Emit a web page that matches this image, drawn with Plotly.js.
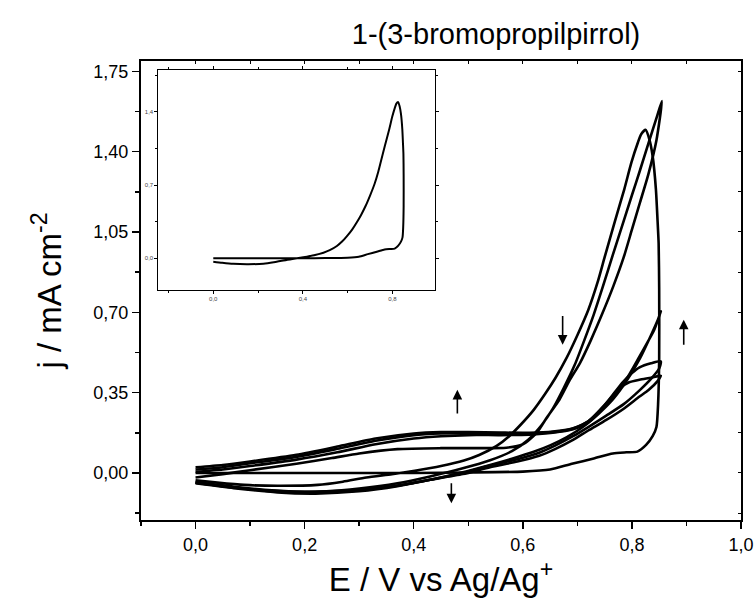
<!DOCTYPE html>
<html>
<head>
<meta charset="utf-8">
<script src="https://cdn.plot.ly/plotly-3.0.1.min.js"></script>
<style>html,body{margin:0;padding:0;background:#fff;}#chart{width:755px;height:609px;}</style>
</head>
<body>
<div id="chart"></div>
<script>
// Cycle 1 (also shown in inset)
const c1E = [0, 0.05, 0.1, 0.2, 0.3, 0.4, 0.5, 0.6, 0.65, 0.69, 0.73, 0.765, 0.79, 0.81, 0.826, 0.838, 0.845, 0.848, 0.85, 0.85, 0.849, 0.847, 0.844, 0.838, 0.832, 0.825,
             0.817, 0.811, 0.799, 0.786, 0.768, 0.75, 0.737, 0.72, 0.70, 0.68, 0.66, 0.641, 0.62, 0.596, 0.575, 0.552, 0.52, 0.492, 0.45, 0.402, 0.36, 0.313, 0.27, 0.224, 0.15, 0.089, 0.04, 0];
const c1J = [0.0, 0.0, 0.0, 0.0, 0.0, 0.0, 0.002, 0.006, 0.015, 0.04, 0.063, 0.085, 0.09, 0.093, 0.122, 0.16, 0.2, 0.3, 0.5, 0.8, 1.0, 1.1, 1.236, 1.381, 1.454, 1.495,
             1.476, 1.44, 1.352, 1.236, 1.09, 0.94, 0.83, 0.71, 0.6, 0.5, 0.415, 0.345, 0.275, 0.21, 0.16, 0.118, 0.078, 0.054, 0.03, 0.01, -0.005, -0.02, -0.038, -0.052, -0.056, -0.052, -0.042, -0.032];
// Cycle 2
const c2E = [0, 0.05, 0.1, 0.185, 0.25, 0.3, 0.37, 0.45, 0.52, 0.57, 0.6, 0.625, 0.645, 0.667, 0.685, 0.705, 0.725, 0.745, 0.766, 0.785, 0.8, 0.815, 0.83, 0.845, 0.855,
             0.845, 0.83, 0.815, 0.8, 0.78, 0.765, 0.747, 0.73, 0.713, 0.695, 0.675, 0.655, 0.635, 0.61, 0.58, 0.54, 0.49, 0.43, 0.37, 0.3, 0.24, 0.18, 0.12, 0.06, 0];
const c2J = [-0.02, -0.005, 0.012, 0.04, 0.065, 0.085, 0.104, 0.108, 0.108, 0.11, 0.125, 0.173, 0.245, 0.319, 0.4, 0.48, 0.58, 0.69, 0.814, 0.94, 1.06, 1.18, 1.3, 1.45, 1.621,
             1.546, 1.434, 1.32, 1.21, 1.061, 0.95, 0.814, 0.69, 0.58, 0.47, 0.37, 0.28, 0.21, 0.145, 0.095, 0.055, 0.02, -0.015, -0.045, -0.068, -0.08, -0.082, -0.075, -0.06, -0.042];
// Cycle 3
const c3E = [0, 0.05, 0.1, 0.185, 0.26, 0.33, 0.4, 0.45, 0.5, 0.56, 0.612, 0.655, 0.692, 0.72, 0.75, 0.775, 0.795, 0.814, 0.835, 0.853,
             0.847, 0.83, 0.814, 0.785, 0.753, 0.72, 0.692, 0.66, 0.63, 0.59, 0.54, 0.49, 0.43, 0.37, 0.3, 0.25, 0.2, 0.14, 0.07, 0];
const c3J = [0.005, 0.015, 0.03, 0.058, 0.09, 0.125, 0.15, 0.16, 0.165, 0.165, 0.167, 0.175, 0.19, 0.22, 0.29, 0.365, 0.395, 0.406, 0.415, 0.424,
             0.40, 0.36, 0.333, 0.28, 0.231, 0.185, 0.144, 0.105, 0.075, 0.05, 0.025, -0.005, -0.03, -0.055, -0.073, -0.08, -0.082, -0.076, -0.06, -0.04];
// Cycle 4
const c4E = [0, 0.05, 0.1, 0.185, 0.26, 0.33, 0.4, 0.45, 0.5, 0.56, 0.612, 0.655, 0.692, 0.72, 0.75, 0.783, 0.8, 0.814, 0.835, 0.853,
             0.85, 0.835, 0.814, 0.785, 0.753, 0.72, 0.692, 0.66, 0.63, 0.59, 0.54, 0.49, 0.43, 0.37, 0.3, 0.25, 0.2, 0.14, 0.07, 0];
const c4J = [0.015, 0.025, 0.042, 0.07, 0.105, 0.14, 0.165, 0.172, 0.174, 0.172, 0.172, 0.178, 0.193, 0.225, 0.295, 0.395, 0.435, 0.46, 0.478, 0.486,
             0.455, 0.41, 0.36, 0.3, 0.25, 0.2, 0.16, 0.12, 0.088, 0.06, 0.032, 0.0, -0.03, -0.056, -0.076, -0.084, -0.086, -0.08, -0.063, -0.042];
// Cycle 5
const c5E = [0, 0.05, 0.1, 0.185, 0.26, 0.33, 0.4, 0.45, 0.5, 0.56, 0.612, 0.655, 0.692, 0.72, 0.753, 0.789, 0.814, 0.83, 0.841, 0.853,
             0.848, 0.835, 0.815, 0.79, 0.765, 0.74, 0.71, 0.68, 0.65, 0.62, 0.58, 0.54, 0.49, 0.43, 0.37, 0.3, 0.22, 0.15, 0.07, 0];
const c5J = [0.025, 0.035, 0.05, 0.079, 0.115, 0.15, 0.172, 0.178, 0.178, 0.176, 0.175, 0.18, 0.195, 0.225, 0.304, 0.406, 0.508, 0.575, 0.624, 0.704,
             0.67, 0.6, 0.5, 0.4, 0.32, 0.26, 0.2, 0.155, 0.12, 0.092, 0.062, 0.035, 0.003, -0.03, -0.058, -0.08, -0.09, -0.085, -0.066, -0.045];

// Arrow annotations: head (E, j) and tail (E, j)
const arrowHeadE = [0.673, 0.895, 0.48, 0.469];
const arrowHeadJ = [0.559, 0.668, 0.362, -0.132];
const arrowTailE = [0.673, 0.895, 0.48, 0.469];
const arrowTailJ = [0.69, 0.552, 0.253, -0.038];

const chartTitle = '1-(3-bromopropilpirrol)';
const xTitle = 'E / V vs Ag/Ag<sup>+</sup>';
const yTitle = 'j / mA cm<sup>-2</sup>';

const FONT = 'Liberation Sans, Arial, sans-serif';
const xRange = [-0.1, 1.0];
const yRange = [-0.205, 1.795];
const cycles = [[c1E, c1J], [c2E, c2J], [c3E, c3J], [c4E, c4J], [c5E, c5J]];
const traces = cycles.map(c => ({
  x: c[0], y: c[1], type: 'scatter', mode: 'lines',
  line: {color: '#000', width: 2.6, shape: 'spline', smoothing: 0.6},
  xaxis: 'x', yaxis: 'y', hoverinfo: 'skip'
}));
traces.push({
  x: c1E, y: c1J, type: 'scatter', mode: 'lines',
  line: {color: '#000', width: 2, shape: 'spline', smoothing: 0.6},
  xaxis: 'x2', yaxis: 'y2', hoverinfo: 'skip'
});
// invisible trace to hold the mirrored (top/right) inner-tick axes
traces.push({x: [c1E[0]], y: [c1J[0]], type: 'scatter', mode: 'markers', marker: {opacity: 0},
             xaxis: 'x3', yaxis: 'y3', hoverinfo: 'skip'});

const annotations = arrowHeadE.map((e, i) => ({
  x: e, y: arrowHeadJ[i], ax: arrowTailE[i], ay: arrowTailJ[i],
  xref: 'x', yref: 'y', axref: 'x', ayref: 'y',
  text: '', showarrow: true, arrowhead: 2, arrowsize: 1.2, arrowwidth: 1.6, arrowcolor: '#000'
}));

const layout = {
  width: 755, height: 609,
  paper_bgcolor: '#fff', plot_bgcolor: '#fff',
  separators: ',.',
  showlegend: false,
  margin: {l: 141, r: 14, t: 61, b: 89},
  font: {family: FONT, color: '#000'},
  title: {text: chartTitle, font: {size: 29, family: FONT, color: '#000'},
          xref: 'container', x: 0.657, xanchor: 'center', yref: 'container', y: 0.945, yanchor: 'middle'},
  xaxis: {
    range: xRange, tick0: 0, dtick: 0.2, tickformat: '.1f',
    ticks: 'outside', ticklen: 7, tickwidth: 1.5, tickcolor: '#000',
    showline: true, linewidth: 2, linecolor: '#000', mirror: true,
    showgrid: false, zeroline: false,
    minor: {dtick: 0.1, tick0: 0, ticks: 'outside', ticklen: 4, tickwidth: 1.5, tickcolor: '#000', showgrid: false},
    tickfont: {size: 18, family: FONT, color: '#000'},
    title: {text: xTitle, font: {size: 33, family: FONT, color: '#000'}, standoff: 14}
  },
  yaxis: {
    range: yRange, tick0: 0, dtick: 0.35, tickformat: '.2f',
    ticks: 'outside', ticklen: 7, tickwidth: 1.5, tickcolor: '#000',
    showline: true, linewidth: 2, linecolor: '#000', mirror: true,
    showgrid: false, zeroline: false,
    minor: {dtick: 0.175, tick0: 0, ticks: 'outside', ticklen: 4, tickwidth: 1.5, tickcolor: '#000', showgrid: false},
    tickfont: {size: 18, family: FONT, color: '#000'},
    title: {text: yTitle, font: {size: 33, family: FONT, color: '#000'}, standoff: 22}
  },
  xaxis3: {
    overlaying: 'x', side: 'top', anchor: 'y3', range: xRange, tick0: 0, dtick: 0.1,
    ticks: 'inside', ticklen: 3, tickwidth: 1, tickcolor: '#000',
    showticklabels: false, showline: false, showgrid: false, zeroline: false
  },
  yaxis3: {
    overlaying: 'y', side: 'right', anchor: 'x3', range: yRange, tick0: 0, dtick: 0.175,
    ticks: 'inside', ticklen: 3, tickwidth: 1, tickcolor: '#000',
    showticklabels: false, showline: false, showgrid: false, zeroline: false
  },
  xaxis2: {
    domain: [0.029, 0.49], anchor: 'y2',
    range: [-0.245, 0.99], tick0: 0, dtick: 0.4, tickformat: '.1f',
    ticks: 'outside', ticklen: 3, tickwidth: 1, tickcolor: '#000',
    showline: true, linewidth: 1, linecolor: '#000', mirror: 'ticks',
    showgrid: false, zeroline: false,
    minor: {dtick: 0.2, tick0: 0, ticks: 'outside', ticklen: 2, tickwidth: 1, tickcolor: '#000', showgrid: false},
    tickfont: {size: 6, family: FONT, color: '#444'}
  },
  yaxis2: {
    domain: [0.501, 0.980], anchor: 'x2',
    range: [-0.303, 1.798], tick0: 0, dtick: 0.7, tickformat: '.1f',
    ticks: 'outside', ticklen: 3, tickwidth: 1, tickcolor: '#000',
    showline: true, linewidth: 1, linecolor: '#000', mirror: 'ticks',
    showgrid: false, zeroline: false,
    minor: {dtick: 0.35, tick0: 0, ticks: 'outside', ticklen: 2, tickwidth: 1, tickcolor: '#000', showgrid: false},
    tickfont: {size: 6, family: FONT, color: '#444'}
  },
  annotations: annotations
};

Plotly.newPlot('chart', traces, layout, {staticPlot: true, displayModeBar: false});
</script>
</body>
</html>
